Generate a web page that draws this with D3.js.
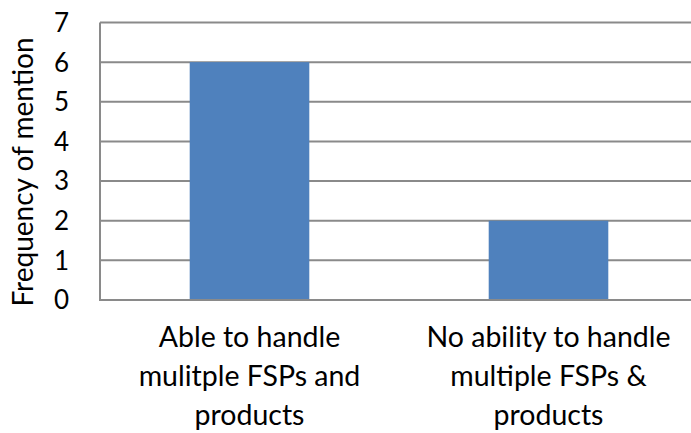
<!DOCTYPE html>
<html lang="en">
<head>
    <meta charset="UTF-8">
    <title>Frequency of mention</title>
    <script src="https://d3js.org/d3.v7.min.js"></script>
    <style>
        body { margin: 0; background: #fff; }
        svg { display: block; font-family: Lato, "Open Sans", sans-serif; }
    </style>
</head>
<body>
    <script>
        const categories = [
            ["Able to handle", "mulitple FSPs and", "products"],
            ["No ability to handle", "multiple FSPs &", "products"]
        ];
        const values = [6, 2];
        const yTicks = [0, 1, 2, 3, 4, 5, 6, 7];

        const width = 691;
        const height = 433;
        const margin = { top: 22.5, right: -7, bottom: 133, left: 100 };

        const svg = d3.select("body").append("svg")
            .attr("width", width)
            .attr("height", height);

        const x = d3.scaleBand()
            .domain(d3.range(categories.length))
            .range([margin.left, width - margin.right])
            .paddingInner(0.6)
            .paddingOuter(0.3);

        const y = d3.scaleLinear()
            .domain([0, 7])
            .range([height - margin.bottom, margin.top]);

        // gridlines
        svg.append("g")
            .selectAll("line")
            .data(yTicks.slice(1))
            .enter().append("line")
            .attr("x1", margin.left)
            .attr("x2", width)
            .attr("y1", d => y(d))
            .attr("y2", d => y(d))
            .attr("stroke", "#8a8a8a")
            .attr("stroke-width", 2);

        // bars
        svg.append("g")
            .selectAll("rect")
            .data(values)
            .enter().append("rect")
            .attr("x", (d, i) => x(i))
            .attr("width", x.bandwidth())
            .attr("y", d => y(d))
            .attr("height", d => y(0) - y(d))
            .attr("fill", "#4f81bd");

        // axes lines
        svg.append("line")
            .attr("x1", margin.left).attr("x2", margin.left)
            .attr("y1", y(7)).attr("y2", y(0))
            .attr("stroke", "#8a8a8a").attr("stroke-width", 2);
        svg.append("line")
            .attr("x1", margin.left - 1).attr("x2", width)
            .attr("y1", y(0)).attr("y2", y(0))
            .attr("stroke", "#8a8a8a").attr("stroke-width", 2);

        // y tick labels
        svg.append("g")
            .selectAll("text")
            .data(yTicks)
            .enter().append("text")
            .attr("x", 69)
            .attr("y", d => y(d))
            .attr("dy", "0.36em")
            .attr("text-anchor", "end")
            .attr("font-size", 26)
            .attr("fill", "#000")
            .text(d => d);

        // x category labels
        const xl = svg.append("g")
            .selectAll("text")
            .data(categories)
            .enter().append("text")
            .attr("text-anchor", "middle")
            .attr("font-size", 28.5)
            .attr("fill", "#000");
        xl.selectAll("tspan")
            .data((d, i) => d.map(t => ({ t, i })))
            .enter().append("tspan")
            .attr("x", d => x(d.i) + x.bandwidth() / 2)
            .attr("y", (d, j) => 347 + j * 39)
            .text(d => d.t);

        // y axis title
        svg.append("text")
            .attr("transform", `translate(33,172) rotate(-90)`)
            .attr("text-anchor", "middle")
            .attr("font-size", 28)
            .attr("fill", "#000")
            .text("Frequency of mention");
    </script>
</body>
</html>
